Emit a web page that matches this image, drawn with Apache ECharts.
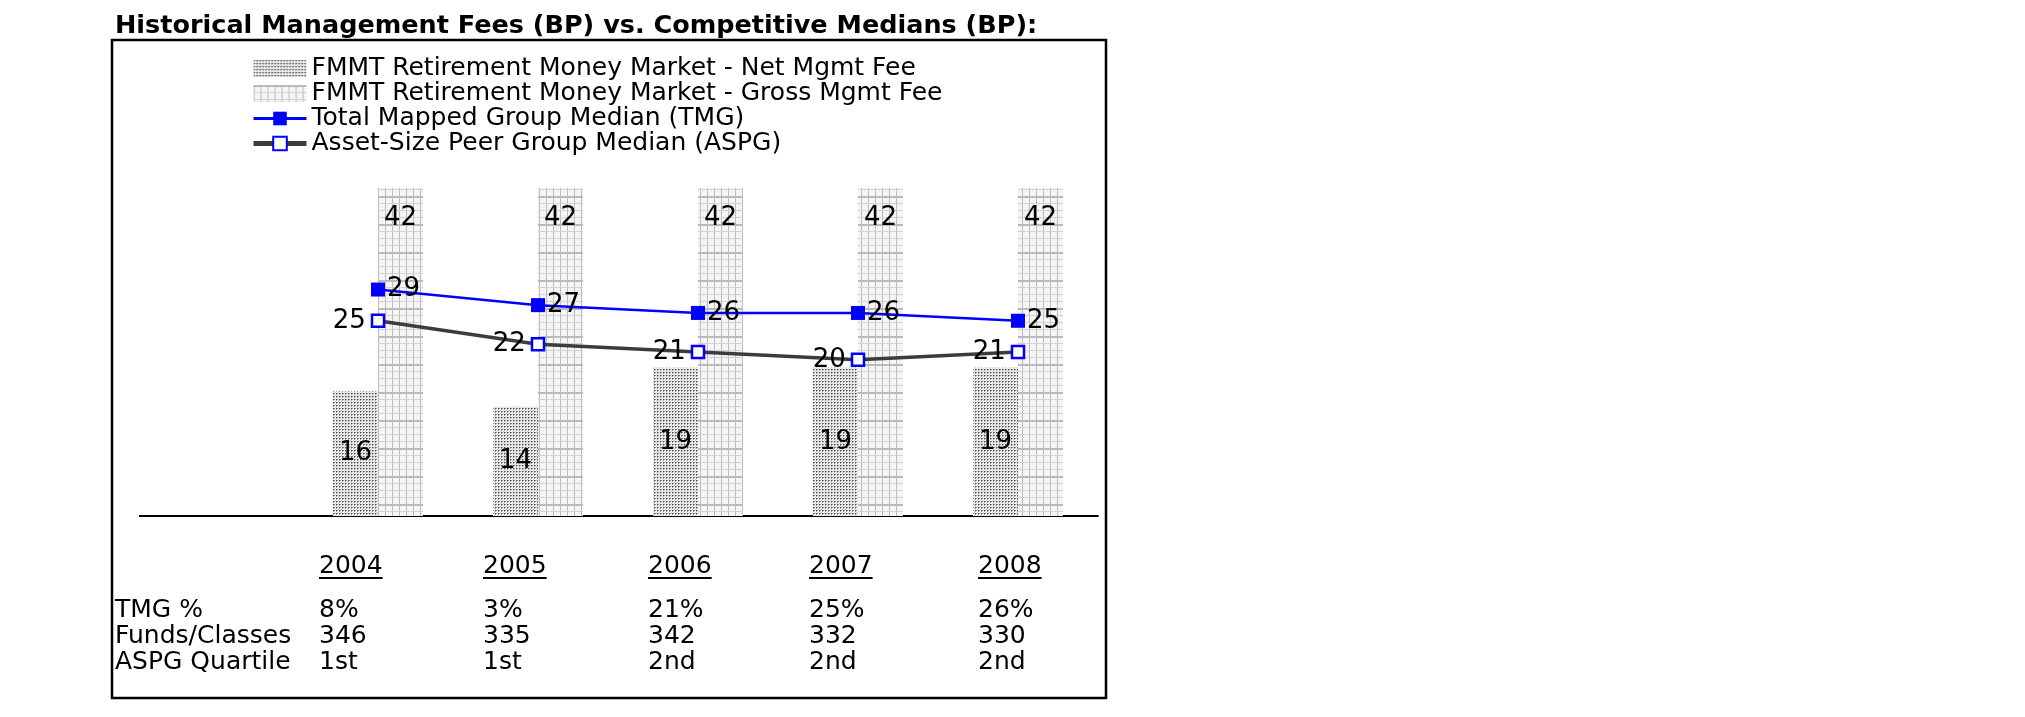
<!DOCTYPE html>
<html>
<head>
<meta charset="utf-8">
<script src="https://cdn.jsdelivr.net/npm/echarts@6/dist/echarts.min.js"></script>
<style>
html,body{margin:0;padding:0;background:#fff;}
#chart{width:2025px;height:717px;}
</style>
</head>
<body>
<div id="chart"></div>
<script>
// ---- data ----
const titleText = 'Historical Management Fees (BP) vs. Competitive Medians (BP):';
const years = ['2004', '2005', '2006', '2007', '2008'];
const netFee = [16, 14, 19, 19, 19];
const grossFee = [42, 42, 42, 42, 42];
const tmgMedian = [29, 27, 26, 26, 25];
const aspgMedian = [25, 22, 21, 20, 21];
const seriesNames = [
  'FMMT Retirement Money Market - Net Mgmt Fee',
  'FMMT Retirement Money Market - Gross Mgmt Fee',
  'Total Mapped Group Median (TMG)',
  'Asset-Size Peer Group Median (ASPG)'
];
const rowLabels = ['TMG %', 'Funds/Classes', 'ASPG Quartile'];
const tmgPct = ['8%', '3%', '21%', '25%', '26%'];
const fundsClasses = ['346', '335', '342', '332', '330'];
const aspgQuartile = ['1st', '1st', '2nd', '2nd', '2nd'];

// ---- patterns ----
function netPattern() {
  const c = document.createElement('canvas');
  c.width = 3; c.height = 3;
  const g = c.getContext('2d');
  g.fillStyle = '#f2f2f2'; g.fillRect(0, 0, 3, 3);
  g.fillStyle = '#4c4c4c'; g.fillRect(0, 0, 1, 1);
  g.fillStyle = '#8c8c8c'; g.fillRect(1, 0, 1, 1);
  g.fillStyle = '#9a9a9a'; g.fillRect(0, 1, 1, 1);
  g.fillStyle = '#d0d0d0'; g.fillRect(2, 2, 1, 1);
  return c;
}
function grossPattern() {
  const c = document.createElement('canvas');
  c.width = 7; c.height = 28;
  const g = c.getContext('2d');
  g.fillStyle = '#f5f5f5'; g.fillRect(0, 0, 7, 28);
  g.fillStyle = '#bcbcbc';
  g.fillRect(0, 0, 1, 28);
  g.fillStyle = '#d2d2d2';
  g.fillRect(0, 7, 7, 1); g.fillRect(0, 14, 7, 1); g.fillRect(0, 21, 7, 1);
  g.fillStyle = '#bababa';
  g.fillRect(0, 0, 7, 2);
  return c;
}

const FONT = '"DejaVu Sans", Verdana, sans-serif';
const chart = echarts.init(document.getElementById('chart'));

// table layout
const colX = [319, 483, 648, 809, 978];
const yearY = 566;
const rowY = [610, 636, 662];
const tableFont = 25;

function measure(t, size) {
  const c = document.createElement('canvas').getContext('2d');
  c.font = size + 'px ' + FONT;
  return c.measureText(t).width;
}

const graphics = [];
graphics.push({
  type: 'rect', shape: {x: 112, y: 40, width: 994, height: 658},
  style: {fill: 'none', stroke: '#000', lineWidth: 2.5}, z: 10
});
graphics.push({
  type: 'line', shape: {x1: 139, y1: 516, x2: 300, y2: 516},
  style: {stroke: '#000', lineWidth: 2}
});
years.forEach((y, i) => {
  graphics.push({type: 'text', x: colX[i], y: yearY,
    style: {text: y, font: tableFont + 'px ' + FONT, fill: '#000', textVerticalAlign: 'middle', textAlign: 'left'}});
  const w = measure(y, tableFont);
  graphics.push({type: 'line', shape: {x1: colX[i], y1: yearY + 12, x2: colX[i] + w, y2: yearY + 12},
    style: {stroke: '#000', lineWidth: 1.8}});
});
const rows = [tmgPct, fundsClasses, aspgQuartile];
rowLabels.forEach((r, ri) => {
  graphics.push({type: 'text', x: 115, y: rowY[ri],
    style: {text: r, font: tableFont + 'px ' + FONT, fill: '#000', textVerticalAlign: 'middle'}});
  rows[ri].forEach((v, i) => {
    graphics.push({type: 'text', x: colX[i], y: rowY[ri],
      style: {text: v, font: tableFont + 'px ' + FONT, fill: '#000', textVerticalAlign: 'middle'}});
  });
});

const option = {
  backgroundColor: '#fff',
  animation: false,
  title: {
    text: titleText, left: 110, top: 8,
    textStyle: {fontFamily: FONT, fontWeight: 'bold', fontSize: 25.5, color: '#000'}
  },
  legend: {
    orient: 'vertical', left: 246, top: 51, itemWidth: 53, itemHeight: 17, itemGap: 0,
    textStyle: {fontFamily: FONT, fontSize: 25, lineHeight: 25, color: '#000'},
    data: [
      {name: seriesNames[0], icon: 'rect'},
      {name: seriesNames[1], icon: 'rect'},
      {name: seriesNames[2], lineStyle: {width: 3}},
      {name: seriesNames[3], lineStyle: {width: 5}}
    ]
  },
  grid: {left: 298, top: 188, width: 800, height: 328},
  xAxis: {
    type: 'category', data: years,
    axisLine: {show: true, lineStyle: {color: '#000', width: 2}},
    axisTick: {show: false}, axisLabel: {show: false}
  },
  yAxis: {type: 'value', min: 0, max: 42, show: false, splitLine: {show: false}},
  series: [
    {
      name: seriesNames[0], type: 'bar', data: netFee, barWidth: 45, barGap: '0%',
      itemStyle: {color: {image: netPattern(), repeat: 'repeat'}},
      label: {show: true, position: 'inside', fontFamily: FONT, fontSize: 26, color: '#000'}
    },
    {
      name: seriesNames[1], type: 'bar', data: grossFee, barWidth: 45, barGap: '0%',
      itemStyle: {color: {image: grossPattern(), repeat: 'repeat'}},
      label: {show: true, position: 'insideTop', distance: 17, fontFamily: FONT, fontSize: 26, color: '#000'}
    },
    {
      name: seriesNames[2], type: 'line', data: tmgMedian, z: 5,
      symbol: 'rect', symbolSize: 14,
      lineStyle: {color: '#0000ff', width: 2.5},
      itemStyle: {color: '#0000ff'},
      label: {show: true, position: 'right', distance: 2, fontFamily: FONT, fontSize: 26, color: '#000'}
    },
    {
      name: seriesNames[3], type: 'line', data: aspgMedian, z: 5,
      symbol: 'rect', symbolSize: 12,
      lineStyle: {color: '#3c3c3c', width: 3.5},
      itemStyle: {color: '#fff', borderColor: '#0000ff', borderWidth: 2.5},
      label: {show: true, position: 'left', distance: 5, fontFamily: FONT, fontSize: 26, color: '#000'}
    }
  ],
  graphic: graphics
};
chart.setOption(option);
</script>
</body>
</html>
